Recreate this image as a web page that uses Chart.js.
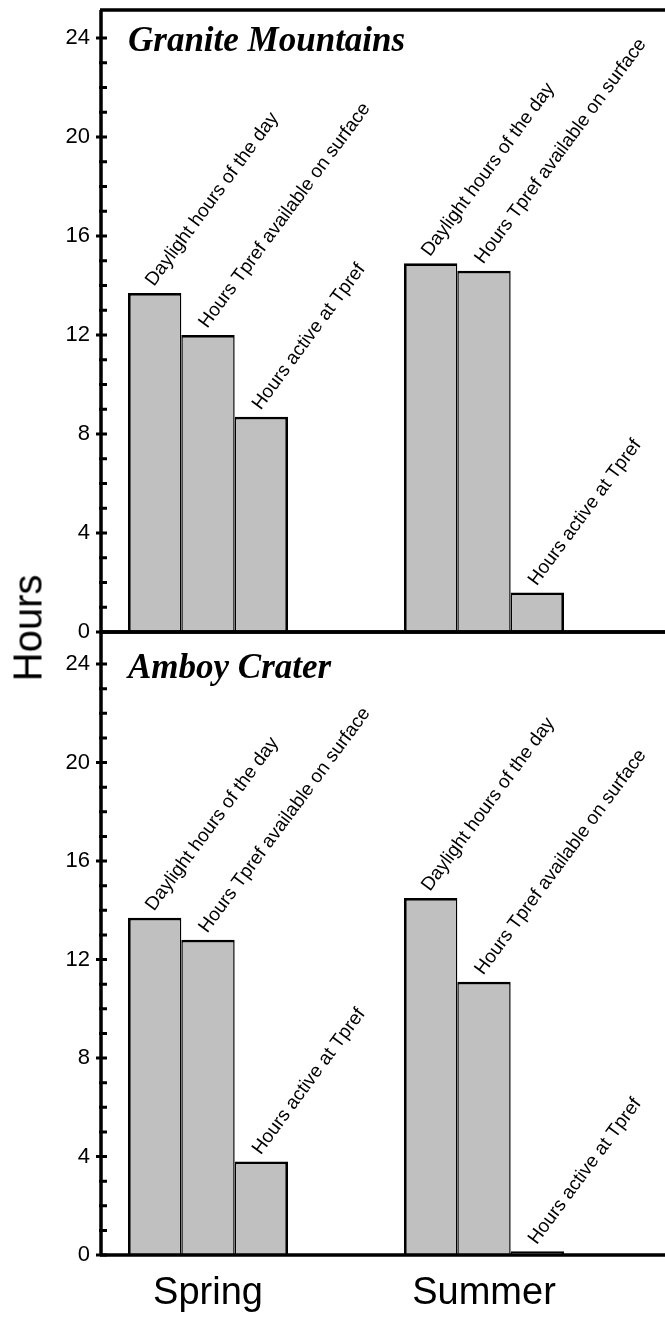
<!DOCTYPE html>
<html>
<head>
<meta charset="utf-8">
<script src="https://cdn.jsdelivr.net/npm/chart.js@4.4.0/dist/chart.umd.min.js"></script>
<style>
    html, body { margin: 0; padding: 0; background: #fff; }
    #wrap { position: relative; width: 665px; height: 1318px; overflow: hidden; }
    #topBox { position: absolute; left: 0; top: 0; }
    #botBox { position: absolute; left: 0; top: 620px; }
    #yTitle {
        position: absolute; left: 28px; top: 628px;
        transform: translate(-50%, -50%) rotate(-90deg);
        font: 40px "Liberation Sans", Arial, sans-serif;
        color: #000; white-space: nowrap;
    }
</style>
</head>
<body>
<div id="wrap">
    <canvas id="topBox" width="665" height="645"></canvas>
    <canvas id="botBox" width="665" height="698"></canvas>
    <div id="yTitle">Hours</div>
</div>
<script>
// 계절 (x축) 과 막대 이름
const SEASONS = ["Spring", "Summer"];
const SERIES = [
    "Daylight hours of the day",
    "Hours Tpref available on surface",
    "Hours active at Tpref",
];
const Y_LABELS = [0, 4, 8, 12, 16, 20, 24];

// Granite Mountains (위쪽 패널)
const GRANITE_DAYLIGHT = [13.7, 14.9];
const GRANITE_TPREF = [12.0, 14.6];
const GRANITE_ACTIVE = [8.7, 1.6];

// Amboy Crater (아래쪽 패널)
const AMBOY_DAYLIGHT = [13.7, 14.5];
const AMBOY_TPREF = [12.8, 11.1];
const AMBOY_ACTIVE = [3.8, 0.15];

const SANS = '"Liberation Sans", Arial, sans-serif';
const SERIF = '"Liberation Serif", "Times New Roman", serif';

// 붙어 있는 막대끼리 경계선이 두꺼워지지 않게 좌우 폭을 나눔
const BORDERS = [
    { top: 2.8, left: 2.8, right: 1.5, bottom: 0 },
    { top: 2.8, left: 1.5, right: 1.5, bottom: 0 },
    { top: 2.8, left: 1.5, right: 2.8, bottom: 0 },
];

function toPoints(values) {
    return values.map((v, i) => ({ x: i, y: v }));
}

// 축선, 눈금, 패널 제목
const framePlugin = {
    id: "frame",
    afterDatasetsDraw(chart, args, opts) {
        const { ctx, chartArea: a } = chart;
        const y = chart.scales.y;
        ctx.save();
        ctx.strokeStyle = "#000";
        ctx.lineWidth = 3.5;
        ctx.beginPath();
        ctx.moveTo(a.left + 1, a.top);
        ctx.lineTo(a.left + 1, a.bottom);
        ctx.moveTo(a.left, a.top);
        ctx.lineTo(chart.width, a.top);
        ctx.moveTo(a.left, a.bottom);
        ctx.lineTo(chart.width, a.bottom);
        ctx.stroke();

        ctx.lineWidth = 3;
        ctx.beginPath();
        for (let v = 0; v <= 24; v++) {
            const py = y.getPixelForValue(v);
            const major = Y_LABELS.includes(v);
            ctx.moveTo(a.left - (major ? 4 : 1), py);
            ctx.lineTo(a.left + 7, py);
        }
        ctx.stroke();

        ctx.fillStyle = "#000";
        ctx.font = "bold italic 35px " + SERIF;
        ctx.textAlign = "left";
        ctx.textBaseline = "alphabetic";
        ctx.fillText(opts.text, opts.x, opts.y);
        ctx.restore();
    },
};

// 막대 위 비스듬한 이름표
const barLabelPlugin = {
    id: "barLabels",
    afterDatasetsDraw(chart) {
        const { ctx } = chart;
        ctx.save();
        ctx.fillStyle = "#000";
        ctx.font = "19px " + SANS;
        ctx.textAlign = "left";
        ctx.textBaseline = "alphabetic";
        chart.data.datasets.forEach((ds, i) => {
            chart.getDatasetMeta(i).data.forEach((bar) => {
                ctx.save();
                ctx.translate(bar.x - bar.width / 2 + 26, bar.y - 6);
                ctx.rotate((-53.5 * Math.PI) / 180);
                ctx.fillText(SERIES[i], 0, 0);
                ctx.restore();
            });
        });
        ctx.restore();
    },
};

function buildChart(id, cfg) {
    const ctx = document.getElementById(id).getContext("2d");
    const sets = [cfg.daylight, cfg.tpref, cfg.active];

    return new Chart(ctx, {
        type: "bar",
        data: {
            datasets: sets.map((vals, i) => ({
                label: SERIES[i],
                data: toPoints(vals),
                backgroundColor: "#c0c0c0",
                borderColor: "#000",
                borderWidth: BORDERS[i],
                borderSkipped: "start",
                categoryPercentage: 0.58,
                barPercentage: 1,
            })),
        },
        options: {
            responsive: false,
            animation: false,
            layout: { padding: { top: cfg.padTop, left: 0, right: 0, bottom: 0 } },
            scales: {
                x: {
                    type: "linear",
                    offset: false,
                    min: -0.3913,
                    max: 1.6558,
                    afterBuildTicks: (s) => {
                        s.ticks = SEASONS.map((_, i) => ({ value: i }));
                    },
                    afterFit: (s) => {
                        s.height = cfg.xHeight;
                        s.paddingLeft = 0;
                        s.paddingRight = 0;
                    },
                    grid: { display: false, drawTicks: false },
                    border: { display: false },
                    ticks: {
                        display: cfg.showSeasons,
                        autoSkip: false,
                        maxRotation: 0,
                        padding: 16,
                        color: "#000",
                        font: { family: SANS, size: 38 },
                        callback: (v) => SEASONS[v],
                    },
                },
                y: {
                    min: 0,
                    max: cfg.yMax,
                    afterFit: (s) => {
                        s.width = 100;
                        s.paddingTop = 0;
                        s.paddingBottom = 0;
                    },
                    grid: { display: false, drawTicks: false },
                    border: { display: false },
                    ticks: {
                        stepSize: 1,
                        autoSkip: false,
                        padding: 10,
                        color: "#000",
                        font: { family: SANS, size: 22 },
                        callback: (v) => (Y_LABELS.includes(v) ? String(v) : ""),
                    },
                },
            },
            plugins: {
                legend: { display: false },
                tooltip: { enabled: false },
                frame: { text: cfg.title, x: 128, y: cfg.titleY },
            },
        },
        plugins: [barLabelPlugin, framePlugin],
    });
}

function init() {
    buildChart("topBox", {
        title: "Granite Mountains",
        titleY: 51,
        daylight: GRANITE_DAYLIGHT,
        tpref: GRANITE_TPREF,
        active: GRANITE_ACTIVE,
        yMax: 25.13,
        padTop: 10,
        xHeight: 13,
        showSeasons: false,
    });
    buildChart("botBox", {
        title: "Amboy Crater",
        titleY: 58,
        daylight: AMBOY_DAYLIGHT,
        tpref: AMBOY_TPREF,
        active: AMBOY_ACTIVE,
        yMax: 25.3,
        padTop: 12,
        xHeight: 63,
        showSeasons: true,
    });
}

window.addEventListener("load", init);
</script>
</body>
</html>
